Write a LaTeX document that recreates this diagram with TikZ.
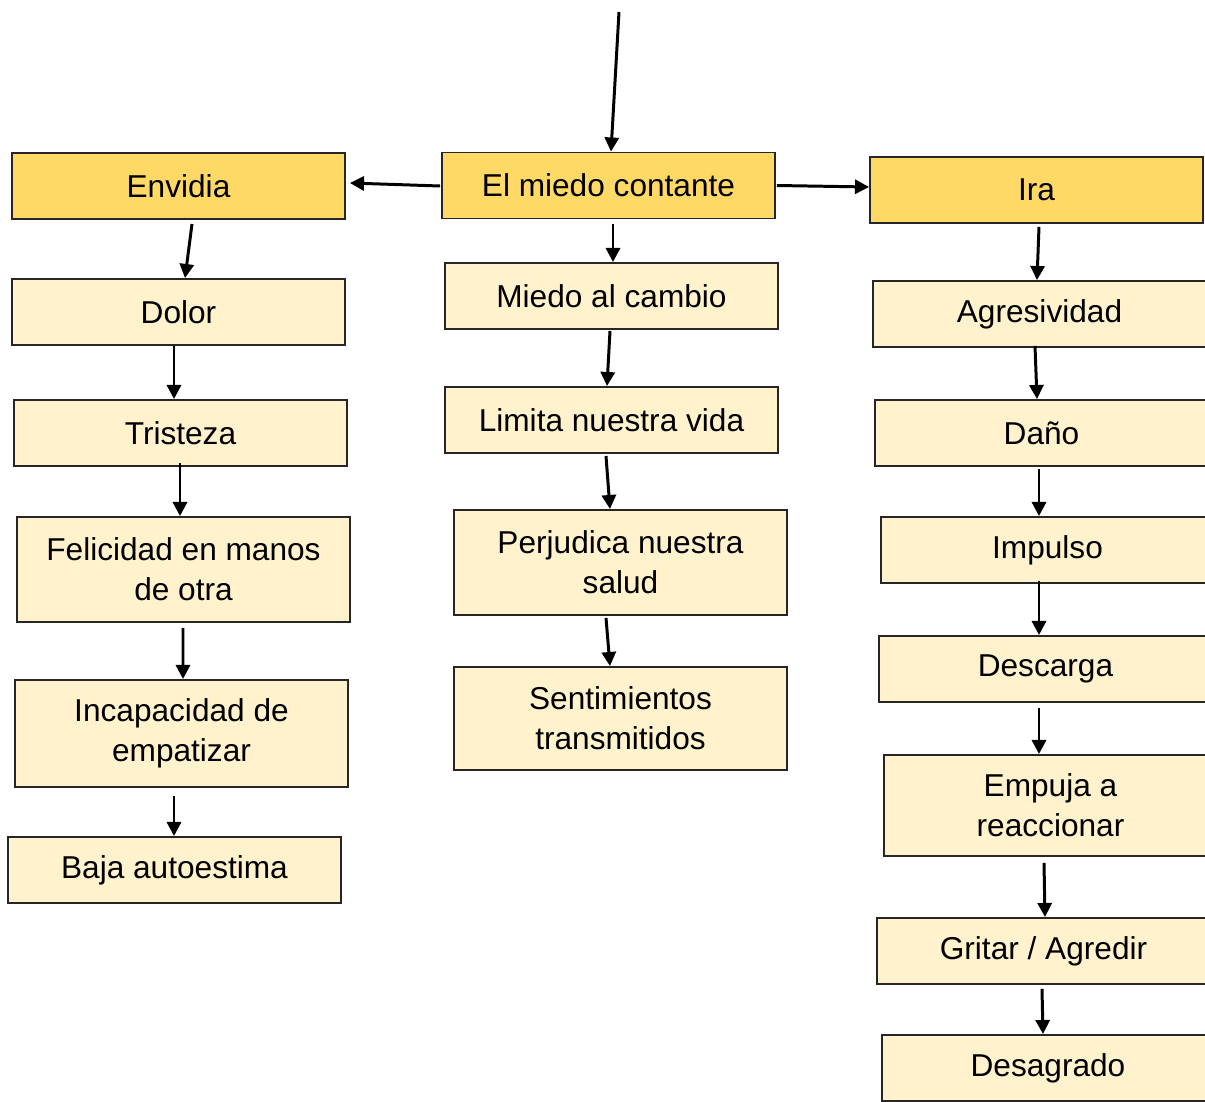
\documentclass[tikz,border=0pt]{standalone}
\usepackage{fontspec}
\setmainfont{Liberation Sans}
\usetikzlibrary{arrows.meta}
\definecolor{oro}{HTML}{FFD966}
\definecolor{crema}{HTML}{FFF2CC}
\definecolor{borde}{HTML}{262626}
\begin{document}
\begin{tikzpicture}[x=0.02cm, y=-0.02cm, line width=1.1pt,
    caja/.style = {draw=borde, fill=crema, minimum width=6.66cm, minimum height=1.32cm, align=center, inner sep=0pt, font=\fontsize{18}{22.7}\selectfont},
    main/.style = {caja, fill=oro},
    doble/.style = {caja, minimum height=2.1cm},
    arr/.style = {line width=1.7pt, -{Triangle[length=8pt,width=8pt]}}]
    \useasboundingbox (0,0) rectangle (1205,1102);
    \clip (0,0) rectangle (1205,1102);
    % Disegna i nodi
    \node[main] (miedo) at (608.5,185.5) {El miedo contante};
    \node[main] (envidia) at (178.5,186) {Envidia};
    \node[main] (ira) at (1036.5,190) {Ira};

    \node[caja] (dolor) at (178.5,312) {Dolor};
    \node[caja] (tristeza) at (180.5,433) {Tristeza};
    \node[doble] (felicidad) at (183.5,569.5) {Felicidad en manos\\de otra};
    \node[doble, minimum height=2.14cm] (incapacidad) at (181.5,733.5) {Incapacidad de\\empatizar};
    \node[caja] (baja) at (174.5,870) {Baja autoestima};

    \node[caja] (cambio) at (611.5,296) {Miedo al cambio};
    \node[caja] (limita) at (611.5,420) {Limita nuestra vida};
    \node[doble] (perjudica) at (620.5,562.5) {Perjudica nuestra\\salud};
    \node[doble, minimum height=2.06cm] (sentimientos) at (620.5,718.5) {Sentimientos\\transmitidos};

    \node[caja] (agresividad) at (1039.5,314) {Agresividad};
    \node[caja] (dano) at (1041.5,433) {Daño};
    \node[caja] (impulso) at (1047.5,550) {Impulso};
    \node[caja] (descarga) at (1045.5,669) {Descarga};
    \node[doble, minimum height=2.02cm] (empuja) at (1050.5,805.5) {Empuja a\\reaccionar};
    \node[caja] (gritar) at (1043.5,951) {Gritar / Agredir};
    \node[caja] (desagrado) at (1048,1068) {Desagrado};

    \coordinate (arriba) at (619,12);

    % Flechas
    \draw[arr] (arriba) -- ([shift={(2.5,0)}]miedo.north);
    \draw[arr] ([shift={(-1,0.5)}]miedo.west) -- ([shift={(4,-3)}]envidia.east);
    \draw[arr] ([shift={(1,0)}]miedo.east) -- ([shift={(0,-3)}]ira.west);

    \draw[arr] ([shift={(4.5,5)}]miedo.south) -- ([shift={(1.5,0)}]cambio.north);
    \draw[arr] ([shift={(-1.5,1)}]cambio.south) -- ([shift={(-4.5,0)}]limita.north);
    \draw[arr] ([shift={(-5.5,2)}]limita.south) -- ([shift={(-10.5,0)}]perjudica.north);
    \draw[arr] ([shift={(-14.5,2)}]perjudica.south) -- ([shift={(-10.5,0)}]sentimientos.north);

    \draw[arr] ([shift={(13.5,4)}]envidia.south) -- ([shift={(6.5,0)}]dolor.north);
    \draw[arr] ([shift={(-4.5,0)}]dolor.south) -- ([shift={(-6.5,0)}]tristeza.north);
    \draw[arr] ([shift={(-0.5,-4)}]tristeza.south) -- ([shift={(-3.5,0)}]felicidad.north);
    \draw[arr] ([shift={(-0.5,5)}]felicidad.south) -- ([shift={(1.5,0)}]incapacidad.north);
    \draw[arr] ([shift={(-7.5,8)}]incapacidad.south) -- ([shift={(-0.5,0)}]baja.north);

    \draw[arr] ([shift={(2.5,3)}]ira.south) -- ([shift={(-2.5,0)}]agresividad.north);
    \draw[arr] ([shift={(-4.5,-2)}]agresividad.south) -- ([shift={(-4.5,0)}]dano.north);
    \draw[arr] ([shift={(-2.5,2)}]dano.south) -- ([shift={(-8.5,0)}]impulso.north);
    \draw[arr] ([shift={(-8.5,-3)}]impulso.south) -- ([shift={(-6.5,0)}]descarga.north);
    \draw[arr] ([shift={(-6.5,5)}]descarga.south) -- ([shift={(-11.5,0)}]empuja.north);
    \draw[arr] ([shift={(-6.5,6)}]empuja.south) -- ([shift={(1.5,0)}]gritar.north);
    \draw[arr] ([shift={(-1.5,4)}]gritar.south) -- ([shift={(-5,0)}]desagrado.north);
\end{tikzpicture}
\end{document}
